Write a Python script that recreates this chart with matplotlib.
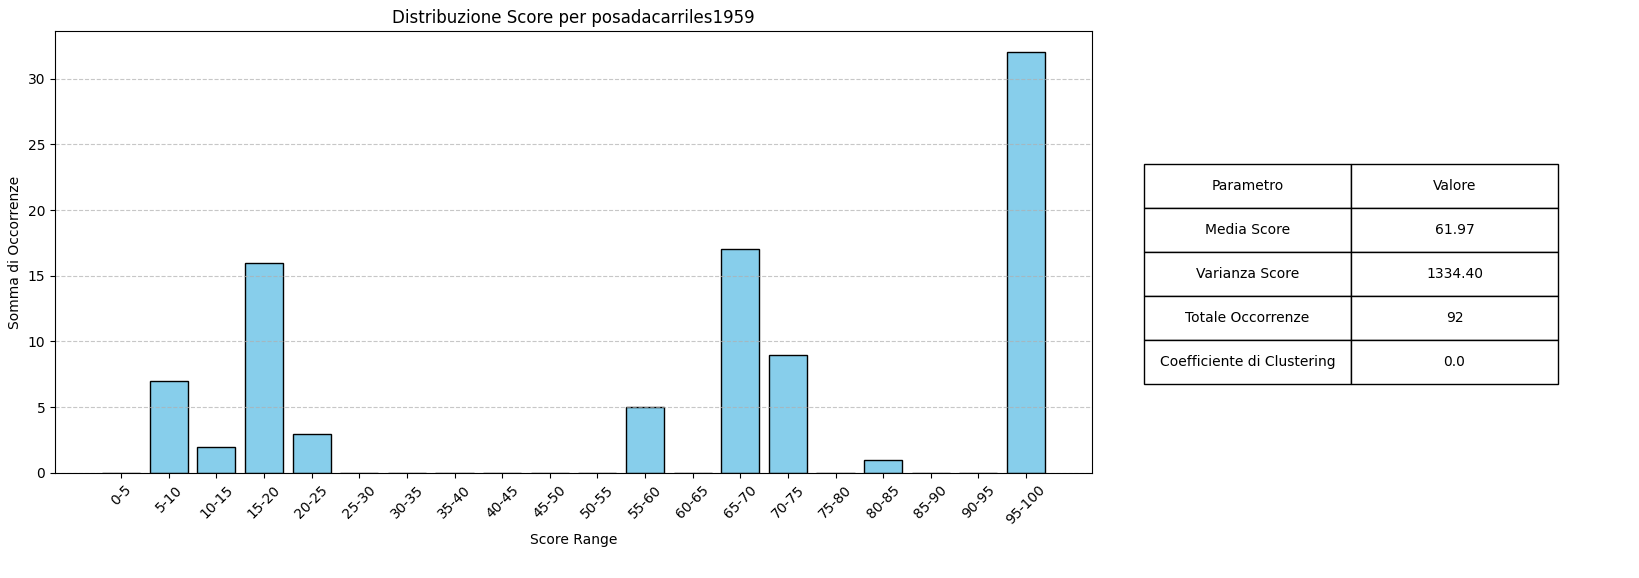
import matplotlib
matplotlib.use("Agg")
import matplotlib.pyplot as plt

categories = ["0-5", "5-10", "10-15", "15-20", "20-25", "25-30", "30-35", "35-40",
              "40-45", "45-50", "50-55", "55-60", "60-65", "65-70", "70-75", "75-80",
              "80-85", "85-90", "90-95", "95-100"]
counts = [0, 7, 2, 16, 3, 0, 0, 0, 0, 0, 0, 5, 0, 17, 9, 0, 1, 0, 0, 32]

param_names = ["Media Score", "Varianza Score", "Totale Occorrenze", "Coefficiente di Clustering"]
param_values = ["61.97", "1334.40", "92", "0.0"]
col_labels = ["Parametro", "Valore"]

fig = plt.figure(figsize=(16.4, 5.78), dpi=100)
ax = fig.add_axes([0.0335, 0.1817, 0.6325, 0.7643])
ax.bar(categories, counts, color="skyblue", edgecolor="black")
ax.set_title("Distribuzione Score per posadacarriles1959")
ax.set_xlabel("Score Range")
ax.set_ylabel("Somma di Occorrenze")
ax.tick_params(axis="x", rotation=45)
ax.grid(axis="y", linestyle="--", alpha=0.7)

tax = fig.add_axes([0.6976, 0.3356, 0.2524, 0.3806])
tax.axis("off")
cell_text = [[n, v] for n, v in zip(param_names, param_values)]
tbl = tax.table(cellText=cell_text, colLabels=col_labels, cellLoc="center",
                loc="center", bbox=[0, 0, 1, 1])
tbl.auto_set_font_size(False)
tbl.set_fontsize(10)

fig.savefig("out.png", dpi=100)
